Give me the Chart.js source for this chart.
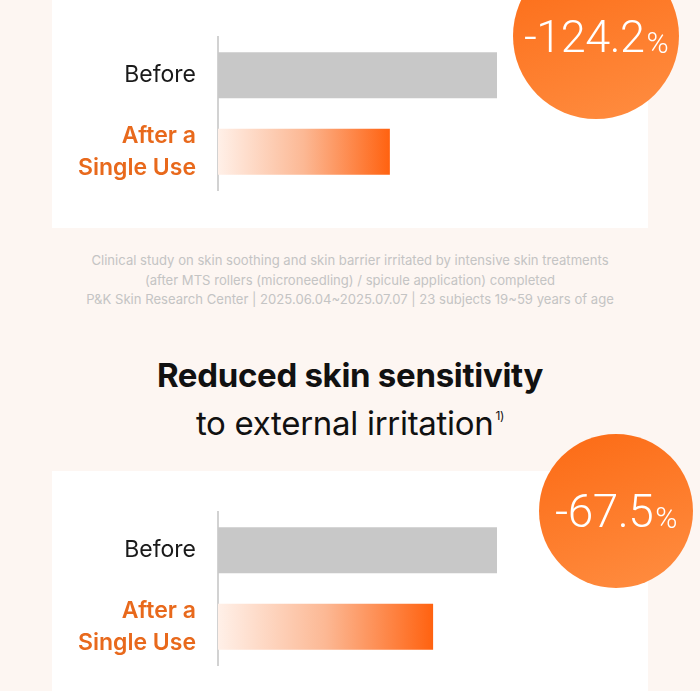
<!DOCTYPE html>
<html>
<head>
<meta charset="utf-8">
<script src="https://cdn.jsdelivr.net/npm/chart.js@4.4.0/dist/chart.umd.min.js"></script>
<style>
  body {
    margin: 0;
    width: 700px;
    height: 691px;
    overflow: hidden;
    position: relative;
    background: #fdf6f2;
    font-family: Inter, "Noto Sans", sans-serif;
  }
  .card {
    position: absolute;
    left: 52px;
    width: 596px;
    background: #fff;
  }
  .chart-box {
    position: absolute;
    left: 52px;
    width: 596px;
  }
  .badge {
    position: absolute;
    border-radius: 50%;
    background: linear-gradient(160deg, #fc6a14 0%, #ff8e42 100%);
    color: #fff;
    font-family: Roboto, "Noto Sans", sans-serif;
    font-weight: 300;
    display: flex;
    align-items: center;
    justify-content: center;
    letter-spacing: -0.5px;
  }
  .badge small { font-size: 30px; margin-left: 2px; margin-top: 12px; }
  .note {
    position: absolute;
    left: 0;
    width: 700px;
    top: 251px;
    text-align: center;
    color: #c4c4c4;
    font-size: 13.1px;
    line-height: 19.5px;
  }
  .title {
    position: absolute;
    left: 0;
    width: 700px;
    text-align: center;
    color: #111;
    font-size: 33px;
    line-height: 40px;
    letter-spacing: -0.3px;
  }
  .title sup { font-size: 12px; vertical-align: 15px; margin-left: 2px; }
</style>
</head>
<body>

<div class="card" style="top:-10px;height:238px;"></div>
<div class="chart-box" style="top:0;height:228px;"><canvas id="irritationChart"></canvas></div>
<div class="badge" id="badge1" style="left:513px;top:-47px;width:166px;height:166px;font-size:45px;"></div>

<div class="note">
  Clinical study on skin soothing and skin barrier irritated by intensive skin treatments<br>
  (after MTS rollers (microneedling) / spicule application) completed<br>
  P&amp;K Skin Research Center | 2025.06.04~2025.07.07 | 23 subjects 19~59 years of age
</div>

<div class="title" style="top:355px;font-weight:700;">Reduced skin sensitivity</div>
<div class="title" style="top:396px;font-weight:400;">to external irritation<sup>1)</sup></div>

<div class="card" style="top:471px;height:230px;"></div>
<div class="chart-box" style="top:471px;height:220px;"><canvas id="sensitivityChart"></canvas></div>
<div class="badge" id="badge2" style="left:539px;top:434px;width:154px;height:154px;font-size:46px;"></div>

<script>
// chart data
const categories = ['Before', ['After a', 'Single Use']];
const irritationValues = [100, 61.6];
const sensitivityValues = [100, 77.1];
const changeLabels = ['-124.2', '-67.5'];

const labelColors = ['#1a1a1a', '#e8691c'];
const labelWeights = ['400', '600'];

document.getElementById('badge1').innerHTML = changeLabels[0] + '<small>%</small>';
document.getElementById('badge2').innerHTML = changeLabels[1] + '<small>%</small>';

// gray for Before, pale-to-orange fade for After
function barFill(ctx) {
  if (ctx.dataIndex === 0) return '#c8c8c8';
  const chart = ctx.chart;
  const area = chart.chartArea;
  if (!area || !chart.scales.x) return '#ff7a30';
  const end = chart.scales.x.getPixelForValue(ctx.raw);
  const g = chart.ctx.createLinearGradient(area.left, 0, end, 0);
  g.addColorStop(0, '#fff0e8');
  g.addColorStop(0.5, '#fcb894');
  g.addColorStop(1, '#ff6210');
  return g;
}

function makeBarChart(id, values, padding) {
  const el = document.getElementById(id);
  return new Chart(el, {
    type: 'bar',
    data: {
      labels: categories,
      datasets: [{
        data: values,
        backgroundColor: barFill,
        borderWidth: 0,
        categoryPercentage: 1,
        barPercentage: 0.6
      }]
    },
    options: {
      indexAxis: 'y',
      responsive: true,
      maintainAspectRatio: false,
      animation: false,
      layout: { padding: padding },
      scales: {
        x: { display: false, min: 0, max: 100 },
        y: {
          afterFit: (scale) => {
            scale.width = 166;
            // labels may overflow, don't shrink the plot for them
            scale.paddingTop = 0;
            scale.paddingBottom = 0;
          },
          grid: { display: false, drawTicks: false },
          border: { display: true, color: '#d2d2d2', width: 2 },
          ticks: {
            padding: 22,
            color: (c) => labelColors[c.index],
            font: (c) => ({
              family: 'Inter, "Noto Sans", sans-serif',
              size: 23,
              weight: labelWeights[c.index],
              lineHeight: 1.4
            })
          }
        }
      },
      plugins: {
        legend: { display: false },
        tooltip: { enabled: false }
      }
    }
  });
}

makeBarChart('irritationChart', irritationValues, { top: 37, bottom: 38, left: 0, right: 151 });
makeBarChart('sensitivityChart', sensitivityValues, { top: 41, bottom: 26, left: 0, right: 151 });
</script>
</body>
</html>
